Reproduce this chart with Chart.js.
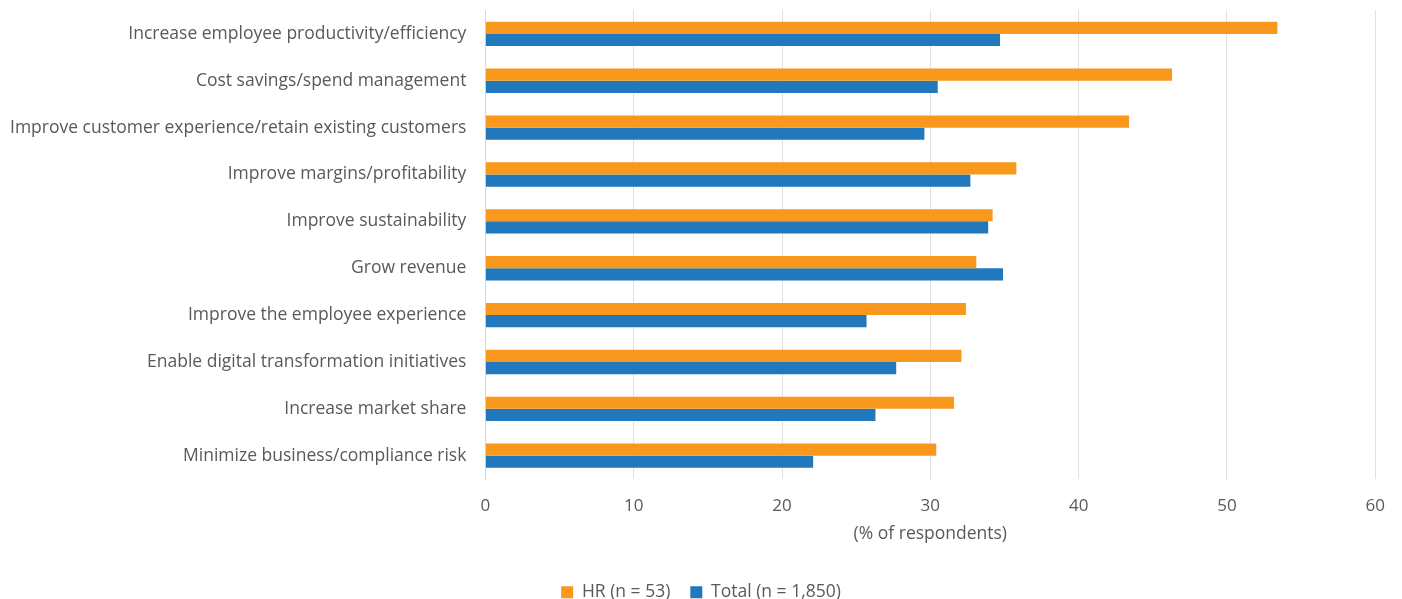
<!DOCTYPE html>
<html>
<head>
<meta charset="utf-8">
<script src="https://cdn.jsdelivr.net/npm/chart.js@4"></script>
<style>
  html, body { margin: 0; padding: 0; background: #fff; }
  #wrap { width: 1402px; height: 599px; }
</style>
</head>
<body>
<div id="wrap"><canvas id="chart1"></canvas></div>
<script>
// categorias e valores (% de respondentes)
const categories = [
  'Increase employee productivity/efficiency',
  'Cost savings/spend management',
  'Improve customer experience/retain existing customers',
  'Improve margins/profitability',
  'Improve sustainability',
  'Grow revenue',
  'Improve the employee experience',
  'Enable digital transformation initiatives',
  'Increase market share',
  'Minimize business/compliance risk'
];
const hrValues = [53.4, 46.3, 43.4, 35.8, 34.2, 33.1, 32.4, 32.1, 31.6, 30.4];
const totalValues = [34.7, 30.5, 29.6, 32.7, 33.9, 34.9, 25.7, 27.7, 26.3, 22.1];
const seriesLabels = ['HR (n = 53)', 'Total (n = 1,850)'];
const xTicks = [0, 10, 20, 30, 40, 50, 60];

Chart.defaults.font.family = "'Open Sans', sans-serif";
Chart.defaults.color = '#595959';

// empurra a legenda um pouco para a direita (centralizar como no original)
const legendShift = {
  id: 'legendShift',
  afterLayout(chart) {
    chart.legend.left += 8;
    chart.legend.right += 8;
  }
};

const ctx = document.getElementById('chart1').getContext('2d');
new Chart(ctx, {
  type: 'bar',
  data: {
    labels: categories,
    datasets: [{
      label: seriesLabels[0],
      data: hrValues,
      backgroundColor: '#f8991d',
      borderWidth: 0
    }, {
      label: seriesLabels[1],
      data: totalValues,
      backgroundColor: '#2278bd',
      borderWidth: 0
    }]
  },
  plugins: [legendShift],
  options: {
    indexAxis: 'y',
    responsive: true,
    maintainAspectRatio: false,
    animation: false,
    barPercentage: 1,
    categoryPercentage: 0.52,
    layout: { padding: { left: 10, right: 26, top: 10, bottom: -12 } },
    plugins: {
      legend: {
        position: 'bottom',
        labels: {
          boxWidth: 12,
          boxHeight: 12,
          padding: 20,
          font: { size: 17.5 },
          color: '#595959'
        }
      },
      tooltip: { enabled: false }
    },
    scales: {
      x: {
        min: 0,
        max: 60,
        afterBuildTicks: (axis) => { axis.ticks = xTicks.map(v => ({ value: v })); },
        grid: { color: '#e0e0e0', drawTicks: false },
        border: { display: false },
        ticks: { padding: 17, font: { size: 17 }, color: '#595959' },
        title: {
          display: true,
          text: '(% of respondents)',
          font: { size: 17.5 },
          color: '#595959',
          padding: { top: -10, bottom: 19 }
        }
      },
      y: {
        grid: {
          display: true,
          drawOnChartArea: false,
          drawTicks: true,
          tickLength: 19,
          tickColor: 'rgba(0,0,0,0)'
        },
        border: { display: true, color: '#d9d9d9' },
        ticks: { padding: 0, font: { size: 17.5 }, color: '#595959' }
      }
    }
  }
});
</script>
</body>
</html>
